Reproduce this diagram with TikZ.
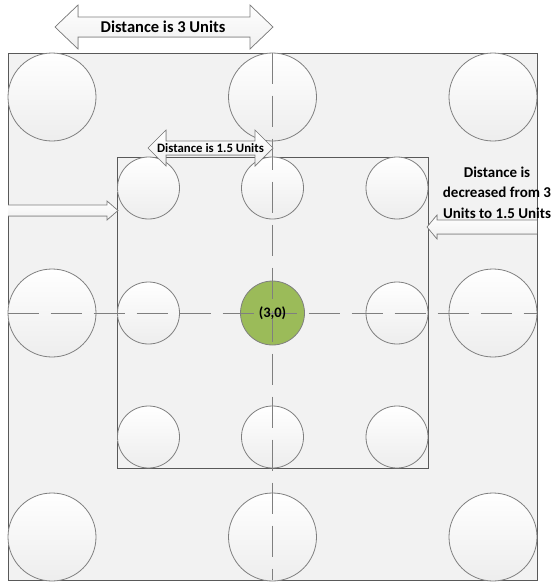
\documentclass[tikz,border=0pt]{standalone}
\usepackage{fontspec}
\usepackage{tikz}
\usetikzlibrary{positioning}
\newfontfamily\calib{Carlito}
\definecolor{rimgray}{HTML}{7F7F7F}
\definecolor{framegray}{HTML}{595959}
\definecolor{framefill}{HTML}{F2F2F2}
\definecolor{olive}{HTML}{9BBB59}
\tikzset{
  framebox/.style={rectangle, draw=framegray, fill=framefill, line width=0.9pt,
                   inner sep=0pt},
  bigcirc/.style={circle, draw=rimgray, top color=white, bottom color=black!7,
                  line width=0.8pt, minimum size=88pt, inner sep=0pt},
  smallcirc/.style={circle, draw=rimgray, top color=white, bottom color=black!7,
                    line width=0.8pt, minimum size=62pt, inner sep=0pt},
  centrecirc/.style={circle, draw=rimgray, fill=olive, line width=0.8pt,
                     minimum size=64pt, inner sep=0pt},
  crossline/.style={draw=rimgray, line width=0.8pt, dash pattern=on 31pt off 12pt},
  arrowbody/.style={draw=rimgray, top color=white, bottom color=black!6,
                    line width=0.7pt, line join=miter},
  sidearrow/.style={draw=rimgray, line width=0.7pt},
  labeltext/.style={font=\calib\bfseries, text=black, inner sep=0pt}
}
\begin{document}
\begin{tikzpicture}[x=1pt, y=-1pt]
  \useasboundingbox (0,0) rectangle (553,584);

  % ===== frames =====
  \node[framebox, minimum width=529pt, minimum height=527pt] (outer) at (272.5,316.5) {};
  \node[framebox, minimum width=311pt, minimum height=311pt] (inner) at (272.5,312.5) {};

  % ===== big circles (3 unit grid, none in the middle) =====
  \foreach \r/\y in {0/97,1/313,2/537} {
    \foreach \c/\x in {0/52,1/272.5,2/493} {
      \ifnum\r=1\ifnum\c=1
      \else
        \node[bigcirc] (big-\r-\c) at (\x,\y) {};
      \fi\else
        \node[bigcirc] (big-\r-\c) at (\x,\y) {};
      \fi
    }
  }

  % ===== small circles (1.5 unit grid) =====
  \foreach \r/\y in {0/188,1/313,2/437} {
    \foreach \c/\x in {0/148.5,1/272.5,2/397} {
      \ifnum\r=1\ifnum\c=1
      \else
        \node[smallcirc] (small-\r-\c) at (\x,\y) {};
      \fi\else
        \node[smallcirc] (small-\r-\c) at (\x,\y) {};
      \fi
    }
  }
  \node[centrecirc] (centre) at (272.5,313) {};

  % ===== cross lines =====
  \draw[crossline] (outer.north) -- (outer.south);
  \draw[crossline] (outer.west |- centre) -- (outer.east |- centre);
  \node[labeltext, font=\calib\bfseries\fontsize{14.5}{14.5}\selectfont] (centre-lbl) at (centre) {(3,0)};

  % ===== top double arrow: 3 units =====
  \filldraw[arrowbody] (55,27) -- (78,5) -- (78,17) -- (250,17) -- (250,5) -- (273,27)
    -- (250,49) -- (250,37) -- (78,37) -- (78,49) -- cycle;
  \node[labeltext, font=\calib\bfseries\fontsize{16.5}{16.5}\selectfont] (three-lbl) at (163,27) {Distance is 3 Units};

  % ===== inner double arrow: 1.5 units =====
  \filldraw[arrowbody] (148,148) -- (166,130) -- (166,141) -- (255,141) -- (255,130) -- (273,148)
    -- (255,166) -- (255,155) -- (166,155) -- (166,166) -- cycle;
  \node[labeltext, font=\calib\bfseries\fontsize{12.8}{12.8}\selectfont] (half-lbl) at (210.5,148) {Distance is 1.5 Units};

  % ===== side arrows (open tails on the outer frame) =====
  \fill[top color=white, bottom color=black!6] (8,205) -- (107,205) -- (107,201) -- (118,210.5)
    -- (107,220) -- (107,216) -- (8,216) -- cycle;
  \draw[sidearrow] (8,205) -- (107,205) -- (107,201) -- (118,210.5)
    -- (107,220) -- (107,216) -- (8,216);
  \fill[top color=white, bottom color=black!6] (537,220) -- (437,220) -- (437,215) -- (427,227)
    -- (437,239) -- (437,234) -- (537,234) -- cycle;
  \draw[sidearrow] (537,220) -- (437,220) -- (437,215) -- (427,227)
    -- (437,239) -- (437,234) -- (537,234);

  % ===== note =====
  \node[labeltext, font=\calib\bfseries\fontsize{15}{20.5}\selectfont, align=center] (note)
    at (497,192.5) {Distance is\\decreased from 3\\Units to 1.5 Units};

\end{tikzpicture}
\end{document}
